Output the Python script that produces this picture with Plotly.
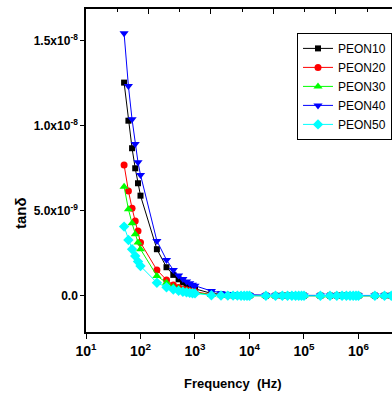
import plotly.graph_objects as go

freq = [50, 60, 70, 80, 90, 100,
        200, 300, 400, 500, 600, 700, 800, 900, 1000,
        2000, 3000, 4000, 5000, 6000, 7000, 8000, 9000, 10000,
        20000, 30000, 40000, 50000, 60000, 70000, 80000, 90000, 100000,
        200000, 300000, 400000, 500000, 600000, 700000, 800000, 900000, 1000000,
        2000000, 3000000, 4000000, 5000000]

# tan(delta) values in units of 1e-9
peon10 = [12.55, 10.31, 8.69, 7.51, 6.63, 5.90,
          2.75, 1.69, 1.24, 0.98, 0.80, 0.66, 0.56, 0.48, 0.42,
          0.15, 0.09, 0.06, 0.05, 0.04, 0.04, 0.03, 0.03, 0.03,
          0.02, 0.02, 0.02, 0.02, 0.02, 0.02, 0.02, 0.02, 0.02,
          0.02, 0.02, 0.02, 0.02, 0.02, 0.02, 0.02, 0.02, 0.02,
          0.02, 0.02, 0.02, 0.02]
peon20 = [7.71, 6.18, 5.16, 4.41, 3.82, 3.14,
          1.53, 0.94, 0.65, 0.50, 0.40, 0.35, 0.30, 0.28, 0.25,
          0.08, 0.05, 0.04, 0.03, 0.03, 0.02, 0.02, 0.02, 0.02,
          0.01, 0.01, 0.01, 0.01, 0.01, 0.01, 0.01, 0.01, 0.01,
          0.01, 0.01, 0.01, 0.01, 0.01, 0.01, 0.01, 0.01, 0.01,
          0.01, 0.01, 0.01, 0.01]
peon30 = [6.43, 5.10, 4.27, 3.63, 3.14, 2.75,
          1.18, 0.78, 0.52, 0.42, 0.34, 0.29, 0.25, 0.22, 0.20,
          0.06, 0.04, 0.03, 0.02, 0.02, 0.02, 0.01, 0.01, 0.01,
          0.01, 0.01, 0.01, 0.01, 0.01, 0.01, 0.01, 0.01, 0.01,
          0.01, 0.01, 0.01, 0.01, 0.01, 0.01, 0.01, 0.01, 0.01,
          0.01, 0.01, 0.01, 0.01]
peon40 = [15.45, 12.35, 10.39, 8.94, 7.86, 7.12,
          3.24, 2.12, 1.53, 1.20, 1.00, 0.85, 0.75, 0.66, 0.60,
          0.29, 0.16, 0.11, 0.09, 0.08, 0.07, 0.06, 0.06, 0.05,
          0.04, 0.03, 0.03, 0.03, 0.03, 0.03, 0.03, 0.03, 0.03,
          0.03, 0.03, 0.03, 0.03, 0.03, 0.03, 0.03, 0.03, 0.03,
          0.03, 0.03, 0.03, 0.03]
peon50 = [4.08, 3.29, 2.75, 2.35, 2.02, 1.76,
          0.78, 0.51, 0.38, 0.30, 0.25, 0.21, 0.18, 0.16, 0.15,
          0.04, 0.03, 0.02, 0.02, 0.02, 0.01, 0.01, 0.01, 0.01,
          0.01, 0.01, 0.01, 0.01, 0.01, 0.01, 0.01, 0.01, 0.01,
          0.01, 0.01, 0.01, 0.01, 0.01, 0.01, 0.01, 0.01, 0.01,
          0.01, 0.01, 0.01, 0.01]

series_names = ["PEON10", "PEON20", "PEON30", "PEON40", "PEON50"]
series_values = [peon10, peon20, peon30, peon40, peon50]
colors = ["#000000", "#FF0000", "#00FF00", "#0000FF", "#00FFFF"]
symbols = ["square", "circle", "triangle-up", "triangle-down", "diamond"]
sizes = [6, 7, 8, 8, 8]

x_tickvals = [1e1, 1e2, 1e3, 1e4, 1e5, 1e6]
x_ticktext = ["10<sup>1</sup>", "10<sup>2</sup>", "10<sup>3</sup>",
              "10<sup>4</sup>", "10<sup>5</sup>", "10<sup>6</sup>"]
y_tickvals = [0, 5e-9, 1e-8, 1.5e-8]
y_ticktext = ["0.0", "5.0x10<sup>-9</sup>", "1.0x10<sup>-8</sup>", "1.5x10<sup>-8</sup>"]

FONT = "Liberation Sans, Arial"

fig = go.Figure()
for name, vals, c, s, ms in zip(series_names, series_values, colors, symbols, sizes):
    fig.add_trace(go.Scatter(
        x=freq, y=[v * 1e-9 for v in vals], name=name,
        mode="lines+markers",
        line=dict(color=c, width=1),
        marker=dict(symbol=s, size=ms, color=c, line=dict(width=0)),
        cliponaxis=True,
    ))

# helper axis for top frame ticks
fig.add_trace(go.Scatter(x=[None], y=[None], xaxis="x2", showlegend=False,
                         hoverinfo="skip"))

fig.update_layout(
    width=392, height=394,
    margin=dict(l=86, r=0, t=9, b=62),
    plot_bgcolor="white", paper_bgcolor="white",
    font=dict(family=FONT, color="black"),
    xaxis=dict(
        type="log", range=[1, 6.615],
        tickvals=x_tickvals, ticktext=x_ticktext,
        tickfont=dict(family=FONT, size=14, weight="bold"),
        ticks="outside", ticklen=5, tickwidth=1.2, tickcolor="black",
        showline=True, linecolor="black", linewidth=1.5,
        showgrid=False, zeroline=False,
    ),
    xaxis2=dict(
        overlaying="x", side="top", anchor="y", range=[0, 4.9],
        tickvals=[0, 1, 2, 3, 4],
        ticks="inside", ticklen=5, tickwidth=1.2, tickcolor="black",
        minor=dict(tickvals=[0.5, 1.5, 2.5, 3.5, 4.5], ticks="inside", ticklen=3, tickcolor="black"),
        showticklabels=False,
        showline=True, linecolor="black", linewidth=1.5,
        showgrid=False, zeroline=False,
    ),
    yaxis=dict(
        range=[-2.12e-9, 1.688e-8],
        tickvals=y_tickvals, ticktext=y_ticktext,
        tickfont=dict(family=FONT, size=12, weight="bold"),
        ticks="outside", ticklen=4, tickwidth=1.2, tickcolor="black",
        showline=True, linecolor="black", linewidth=1.5,
        showgrid=False, zeroline=False,
    ),
    legend=dict(
        x=0.69, y=0.926, xanchor="left", yanchor="top",
        bordercolor="black", borderwidth=1, bgcolor="white",
        font=dict(family=FONT, size=12),
        itemwidth=30, tracegroupgap=0,
    ),
    showlegend=True,
    annotations=[
        dict(text="<b>Frequency  (Hz)</b>", xref="paper", yref="paper",
             x=(232.5 - 86) / 306, y=-(383 - 332) / 323, xanchor="center", yanchor="middle",
             showarrow=False, font=dict(family=FONT, size=13)),
        dict(text="<b>tanδ</b>", xref="paper", yref="paper",
             x=-(86 - 20) / 306, y=(332 - 213) / 323, xanchor="center", yanchor="middle",
             textangle=-90, showarrow=False, font=dict(family=FONT, size=15)),
    ],
)

fig.write_html("out.html", config={"displayModeBar": False},
               post_script="document.body.style.margin='0';")
